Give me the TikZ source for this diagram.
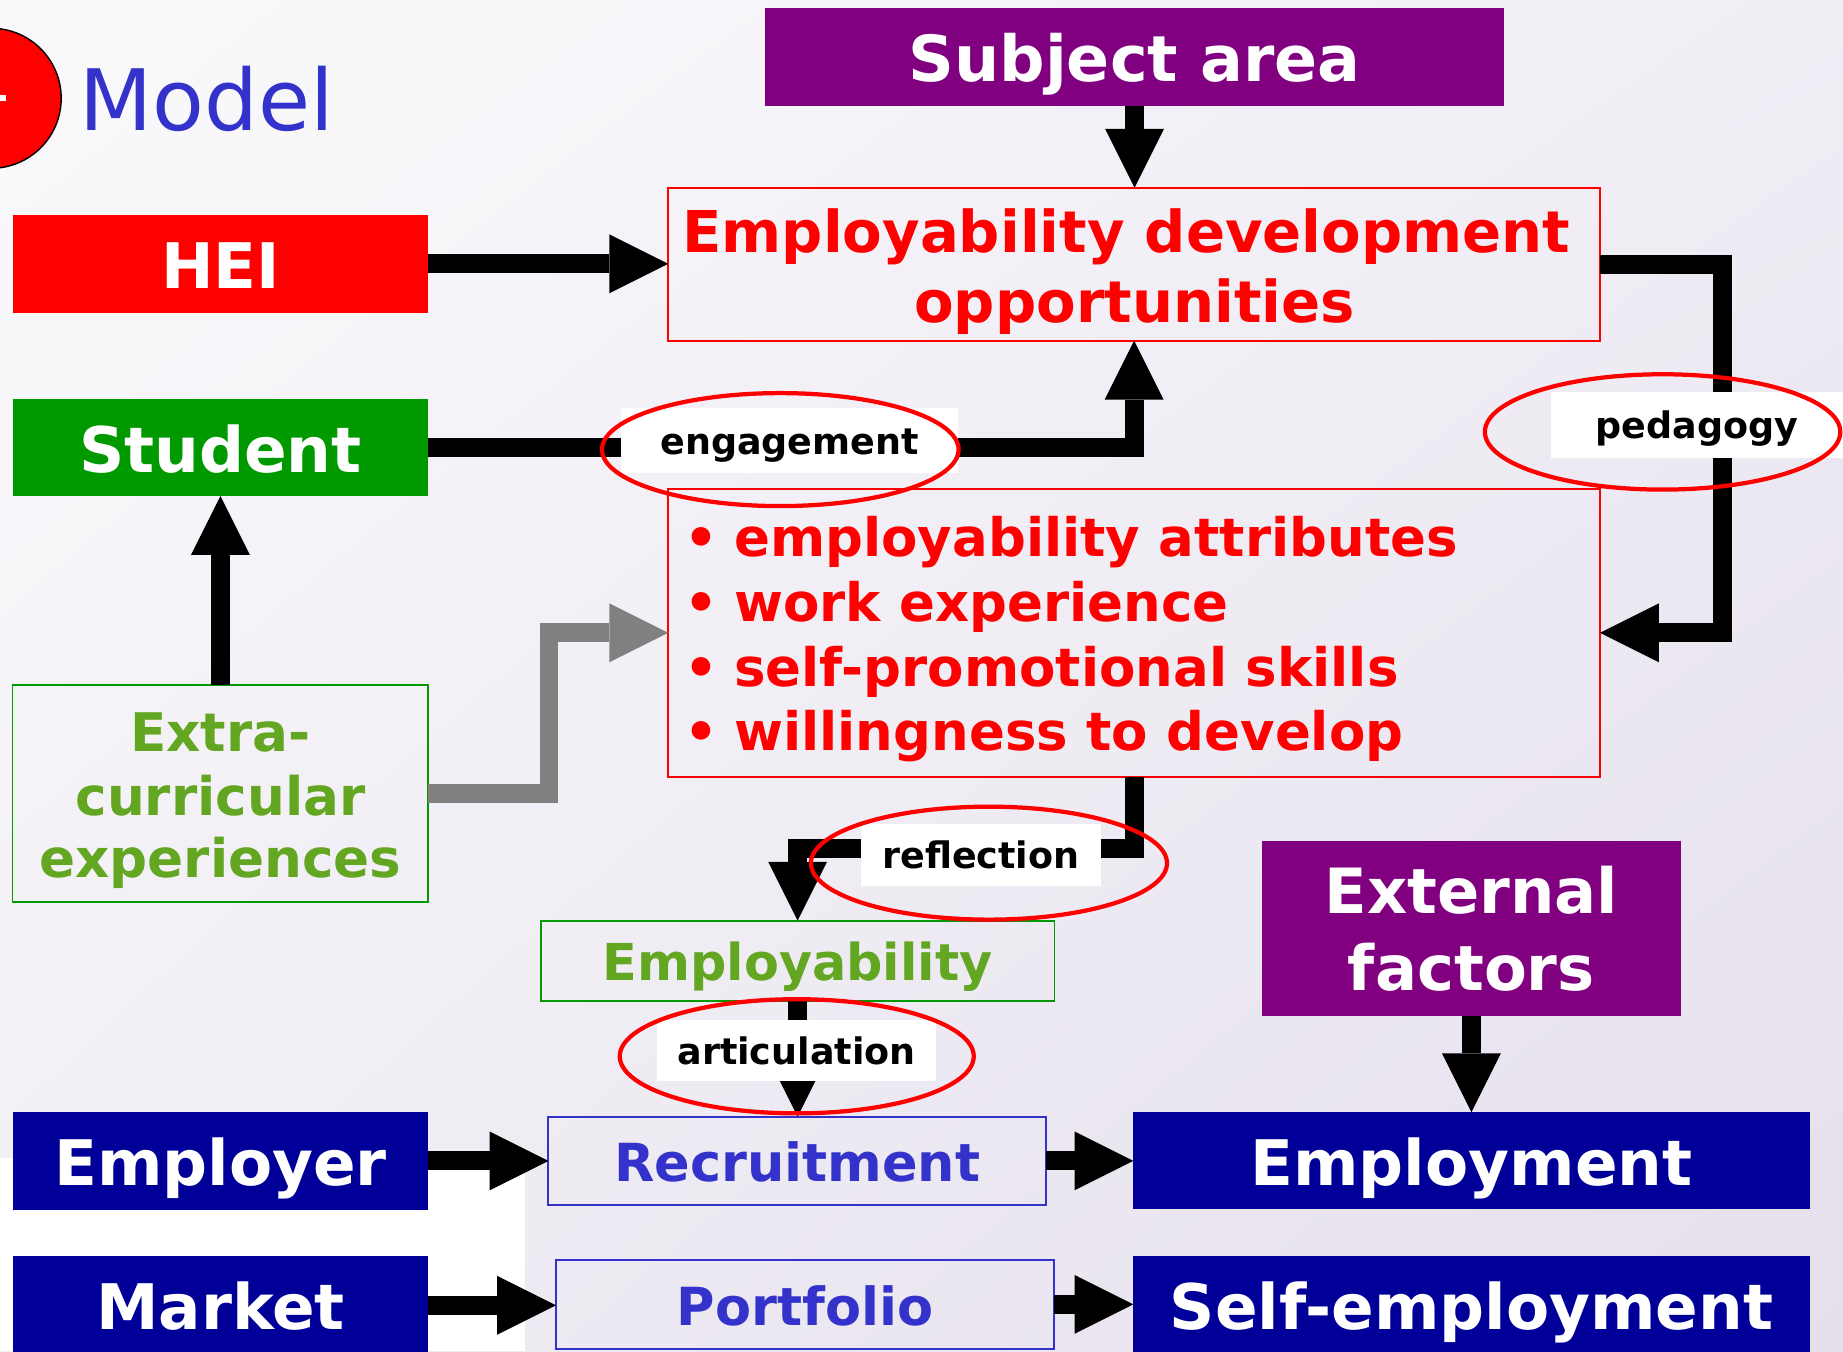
\documentclass[tikz,border=0pt]{standalone}
\usepackage{fontspec}
\setmainfont{DejaVu Sans}
\usetikzlibrary{arrows.meta,shadings}
\definecolor{hred}{HTML}{FF0000}
\definecolor{pgreen}{HTML}{009900}
\definecolor{purp}{HTML}{800080}
\definecolor{navy}{HTML}{000099}
\definecolor{mblue}{HTML}{3333CC}
\definecolor{olive}{HTML}{63A621}
\definecolor{bgA}{HTML}{FAFAFB}
\definecolor{bgB}{HTML}{F0EDF5}
\definecolor{bgC}{HTML}{F1EEF5}
\definecolor{bgD}{HTML}{E5DFEC}
\definecolor{arrgray}{HTML}{808080}
\tikzset{
  corners/.style args={#1/#2/#3/#4}{at={(0.5*#1+0.5*#3,0.5*#2+0.5*#4)}, anchor=center,
     minimum width={(#3-#1)*0.5pt}, minimum height={(#4-#2)*0.5pt}},
  box/.style={inner sep=0pt, outer sep=0pt},
  solidbox/.style={box, fill=#1, text=white, font=\fontsize{26.7}{30}\selectfont\bfseries, text height=20.8pt, text depth=0pt},
  outlinebox/.style={box, draw=#1, line width=0.8pt},
  edotext/.style={text=hred, font=\fontsize{24.5}{30}\selectfont\bfseries, inner sep=0pt, anchor=base},
  bullettext/.style={text=hred, font=\fontsize{22.5}{27}\selectfont\bfseries, inner sep=0pt, anchor=base west},
  olivetext/.style={text=olive, font=\fontsize{22.6}{27}\selectfont\bfseries, inner sep=0pt, anchor=base},
  whitetext/.style={text=white, font=\fontsize{26.5}{30}\selectfont\bfseries, inner sep=0pt, anchor=base},
  conn/.style={line width=8pt, -{Triangle[width=25pt,length=25pt,line width=0pt]}},
  lab/.style={fill=white, inner sep=0pt, font=\fontsize{15.5}{18}\selectfont\bfseries, text height=12pt, text depth=0pt},
  ring/.style={draw=hred, line width=1.8pt},
}
\begin{document}
\begin{tikzpicture}[x=0.5pt,y=-0.5pt]
\useasboundingbox (0,0) rectangle (1566,1148);
% background
\shade[upper left=bgA, upper right=bgB, lower left=bgC, lower right=bgD] (0,0) rectangle (1566,1148);
\fill[white] (0,984) rectangle (446,1148);

% title
\draw[fill=hred, draw=black, line width=0.6pt] (-7.5,83.5) circle[radius=59.5];
\fill[white] (0,80.5) rectangle (5,85.5);
\node[anchor=base west, inner sep=0pt, text=mblue, font=\fontsize{36}{40}\selectfont] (model) at (67,110.5) {Model};

% boxes
\node[solidbox=purp, corners=650/7/1278/90, font=\fontsize{27}{30}\selectfont\bfseries] (subj) {Subject area};
\node[solidbox=hred, corners=10.8/182.7/364/265.7] (hei) {HEI};
\node[solidbox=pgreen, corners=10.8/339/364/421.5] (student) {Student};
\node[outlinebox=hred, corners=567.8/159.5/1359.5/289.5] (edo) {};
\node[outlinebox=hred, corners=567.8/415.4/1359.5/660] (attr) {};
\node[outlinebox=pgreen, corners=10.6/582/364/766.7] (extra) {};
\node[outlinebox=pgreen, corners=459.5/782.3/896/850.6, text=olive, font=\fontsize{21.6}{24}\selectfont\bfseries, text height=17pt, text depth=0pt] (empl) {Employability};
\node[box, fill=purp, corners=1072/715/1428.5/863] (ext) {};
\node[solidbox=navy, corners=10.8/944.8/364/1028] (employer) {Employer};
\node[outlinebox=mblue, corners=466/948.8/888.8/1023.9, text=mblue, font=\fontsize{22.3}{24}\selectfont\bfseries, text height=17.8pt, text depth=0pt] (recruit) {Recruitment};
\node[solidbox=navy, corners=963/945/1537.7/1027.6] (employment) {Employment};
\node[solidbox=navy, corners=10.8/1067.2/364/1151] (market) {Market};
\node[outlinebox=mblue, corners=472.5/1070.6/895.6/1146, text=mblue, font=\fontsize{22.3}{24}\selectfont\bfseries, text height=18pt, text depth=0pt] (portfolio) {Portfolio};
\node[solidbox=navy, corners=963/1067/1537.7/1151] (selfemp) {Self-employment};

% multi-line texts
\node[edotext] (edo1) at (957,214.4) {Employability development};
\node[edotext] (edo2) at (964,274.2) {opportunities};
\node[bullettext] (b1) at (581,473) {\makebox[21.25pt][l]{•}employability attributes};
\node[bullettext] (b2) at (581,528.2) {\makebox[21.25pt][l]{•}work experience};
\node[bullettext] (b3) at (581,582.9) {\makebox[21.25pt][l]{•}self-promotional skills};
\node[bullettext] (b4) at (581,637.3) {\makebox[21.25pt][l]{•}willingness to develop};
\node[olivetext] (x1) at (187.3,638.7) {Extra-};
\node[olivetext] (x2) at (187.3,692.5) {curricular};
\node[olivetext] (x3) at (187.3,746) {experiences};
\node[whitetext] (e1) at (1250.2,776.6) {External};
\node[whitetext] (e2) at (1250.2,841.9) {factors};

% connectors
\draw[conn] (subj.south) -- (subj.south |- edo.north);
\draw[conn] (hei.east) -- (hei.east -| edo.west);
\draw[conn] (student.east) -| (edo.south);
\draw[conn] (edo.east) -- ++(104,0) |- (attr.east);
\draw[conn, arrgray] (extra.east) -- ++(102.5,0) |- (attr.west);
\draw[conn] (extra.north) -- (extra.north |- student.south);
\draw[conn] (attr.south) -- ++(0,60.6) -| (empl.north);
\draw[conn] (empl.south) -- (empl.south |- recruit.north);
\draw[conn] (ext.south) -- (ext.south |- employment.north);
\draw[conn] (employer.east) -- (employer.east -| recruit.west);
\draw[conn] (recruit.east) -- (recruit.east -| employment.west);
\draw[conn] (market.east) -- (market.east -| portfolio.west);
\draw[conn] (portfolio.east) -- (portfolio.east -| selfemp.west);

% labels
\node[lab, minimum width=143.15pt, minimum height=27.5pt] (englab) at (670.9,374.5) {engagement};
\node[lab, minimum width=124pt, minimum height=28pt] (pedlab) at (1442,361) {pedagogy};
\node[lab, minimum width=102pt, minimum height=26.3pt] (reflab) at (833.5,726.3) {reflection};
\node[lab, minimum width=118.75pt, minimum height=25.9pt] (artlab) at (676.8,892.6) {articulation};

% rings
\draw[ring] (663,382) ellipse [x radius=151.5, y radius=48];
\draw[ring] (1412.7,367) ellipse [x radius=151, y radius=49];
\draw[ring] (840.3,733.4) ellipse [x radius=151.3, y radius=48];
\draw[ring] (677,897.5) ellipse [x radius=150.4, y radius=48.5];
\end{tikzpicture}
\end{document}
